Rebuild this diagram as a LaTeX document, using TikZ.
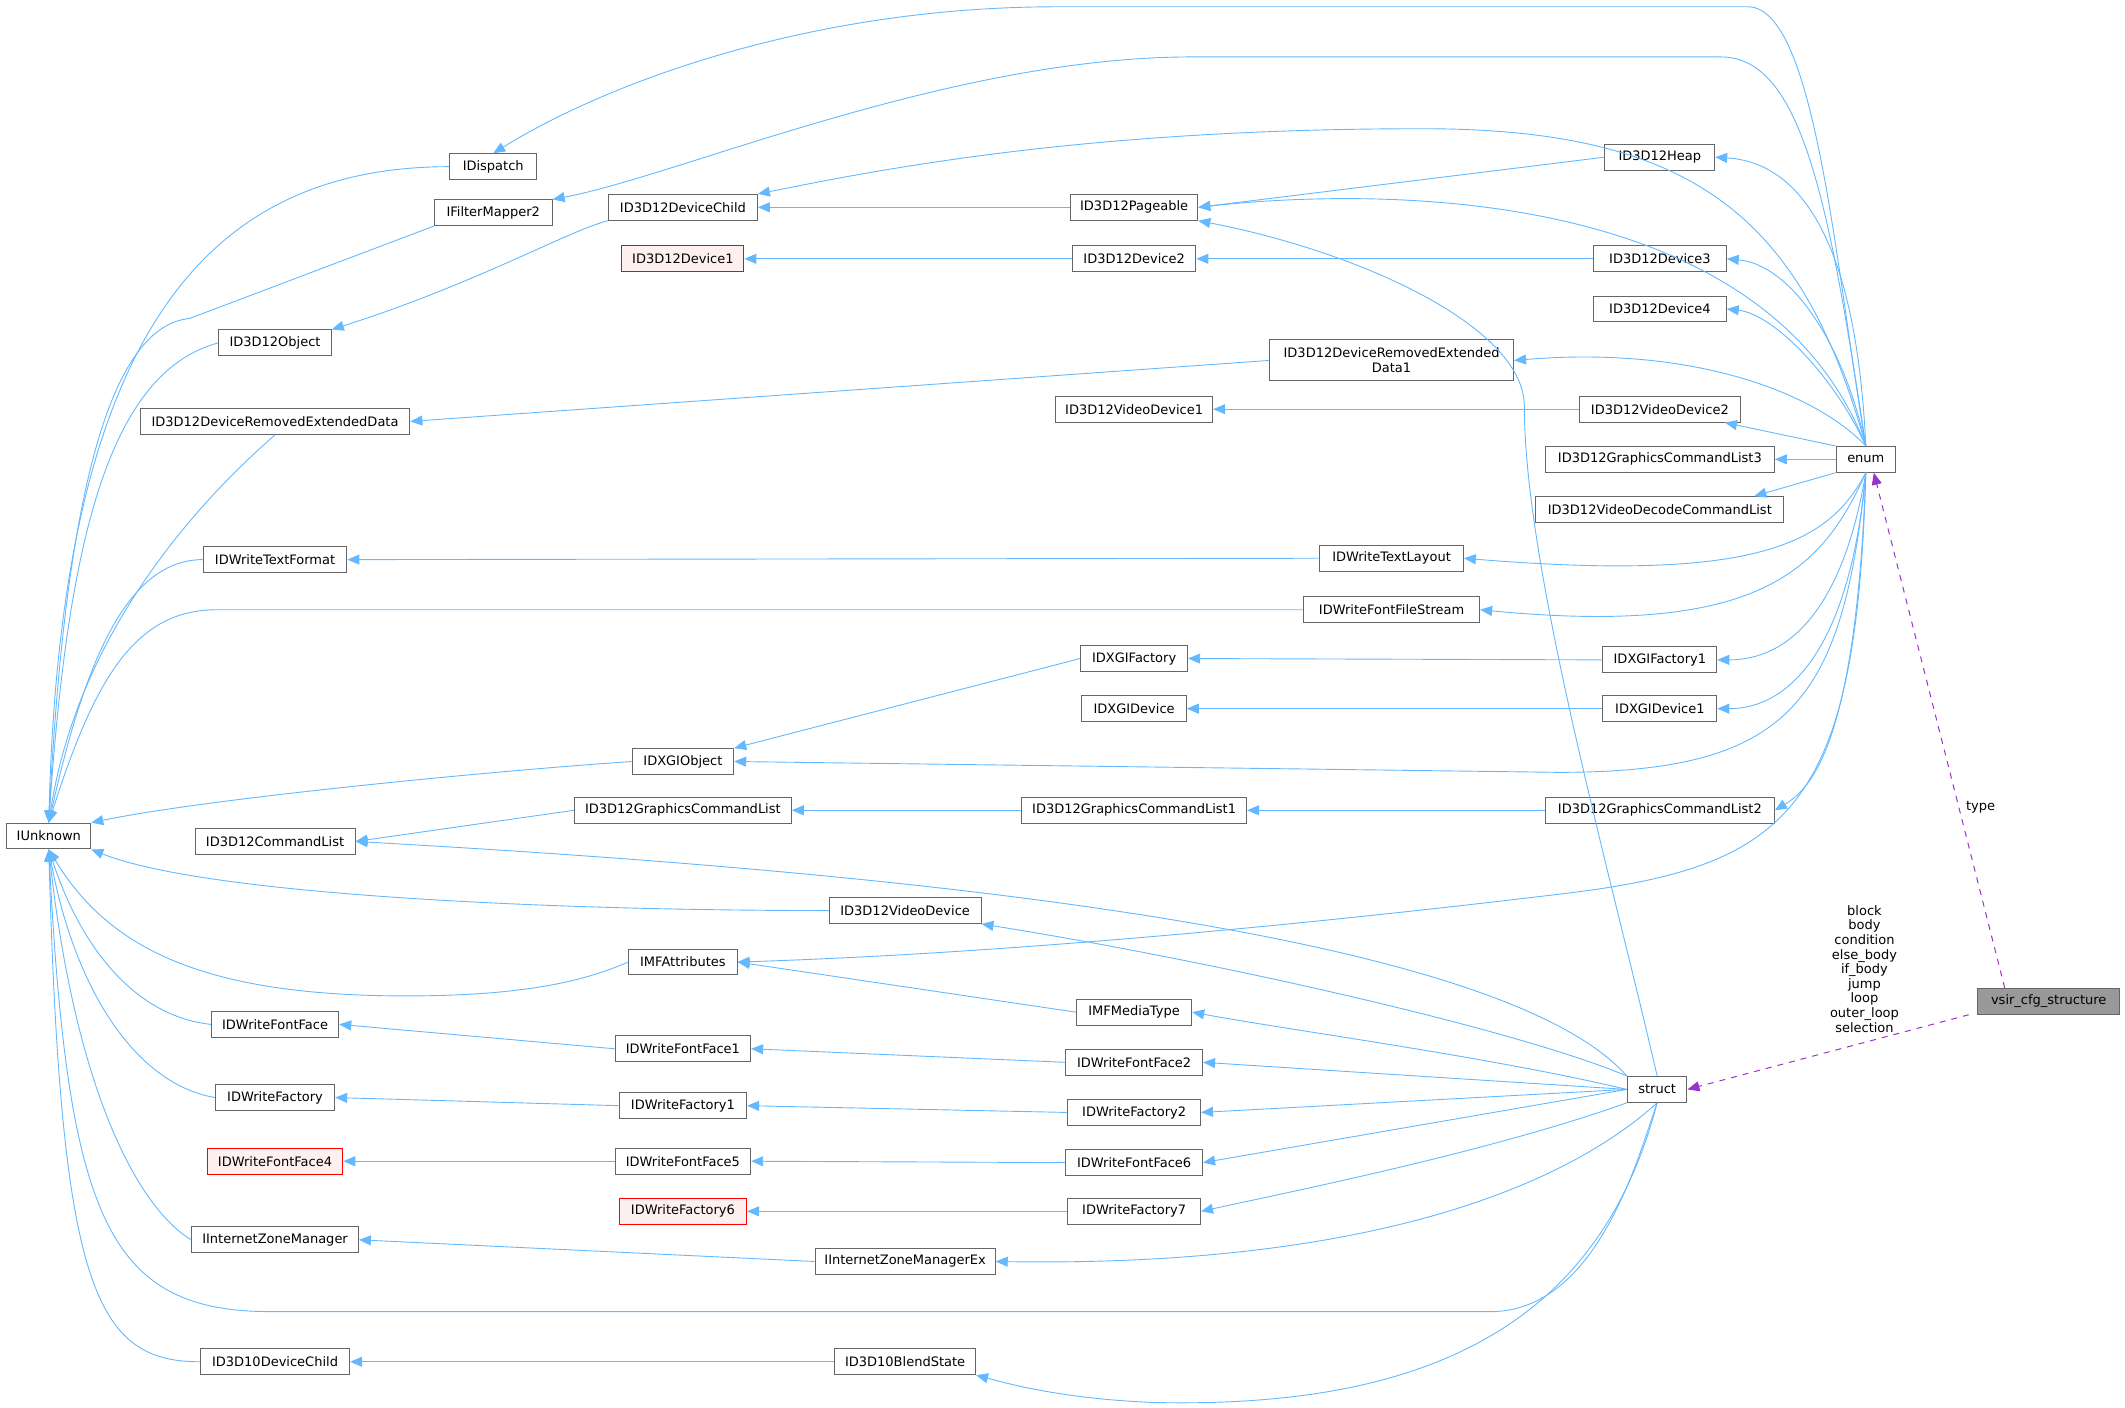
\documentclass[tikz,border=0pt]{standalone}
\usepackage{fontspec}
\setmainfont{DejaVu Sans}
\usetikzlibrary{arrows.meta}
\definecolor{eb}{HTML}{63B8FF}
\definecolor{pu}{HTML}{9A32CD}
\begin{document}
\begin{tikzpicture}[x=0.6775pt,y=-0.6775pt,
  b/.style={draw=black!60,fill=white,font=\fontsize{6.5}{7.5}\selectfont,minimum height=12.9pt,inner sep=1pt,line width=0.5pt},
  r/.style={b,draw=red,fill=red!6},
  g/.style={b,draw=black!60,fill=black!40},
  w/.style={minimum width=#1*0.6775pt},
  e/.style={draw=eb,line width=0.45pt,{Triangle[length=6pt,width=5pt]}-},
  pe/.style={draw=pu,line width=0.5pt,dashed,-{Triangle[length=6pt,width=5pt]}},
  lab/.style={font=\fontsize{6.5}{7.3}\selectfont,align=center}]
\useasboundingbox (0,0) rectangle (1568.3,1039.1);
% nodes
\node[b,w=62] (IU) at (36,617) {IUnknown};
\node[b,w=64] (IDi) at (364,123) {IDispatch};
\node[b,w=87] (IFM) at (364,157) {IFilterMapper2};
\node[b,w=83] (Obj) at (203,253) {ID3D12Object};
\node[b,w=199] (DRED) at (203,311) {ID3D12DeviceRemovedExtendedData};
\node[b,w=106] (TF) at (203,413) {IDWriteTextFormat};
\node[b,w=75] (XO) at (504,562) {IDXGIObject};
\node[b,w=118] (CL) at (203,621) {ID3D12CommandList};
\node[b,w=112] (VD) at (668,672) {ID3D12VideoDevice};
\node[b,w=80] (MFA) at (504,710) {IMFAttributes};
\node[b,w=94] (FF) at (203,756) {IDWriteFontFace};
\node[b,w=88] (WF) at (203,810) {IDWriteFactory};
\node[r,w=100] (FF4) at (203,857) {IDWriteFontFace4};
\node[b,w=123] (IZM) at (203,915) {IInternetZoneManager};
\node[b,w=110] (D10) at (203,1005) {ID3D10DeviceChild};
\node[b,w=110] (DC) at (504,153) {ID3D12DeviceChild};
\node[r,w=90] (Dv1) at (504,191) {ID3D12Device1};
\node[b,w=160] (GCL) at (504,598) {ID3D12GraphicsCommandList};
\node[b,w=100] (FF1) at (504,774) {IDWriteFontFace1};
\node[b,w=94] (WF1) at (504,816) {IDWriteFactory1};
\node[b,w=100] (FF5) at (504,857) {IDWriteFontFace5};
\node[r,w=94] (WF6) at (504,894) {IDWriteFactory6};
\node[b,w=133] (IZMX) at (668,931) {IInternetZoneManagerEx};
\node[b,w=104] (BS) at (668,1005) {ID3D10BlendState};
\node[b,w=94] (Pg) at (837,153) {ID3D12Pageable};
\node[b,w=91] (Dv2) at (837,191) {ID3D12Device2};
\node[b,w=116] (VD1) at (837,302) {ID3D12VideoDevice1};
\node[b,w=79] (XF) at (837,486) {IDXGIFactory};
\node[b,w=77] (XD) at (837,523) {IDXGIDevice};
\node[b,w=166] (GCL1) at (837,598) {ID3D12GraphicsCommandList1};
\node[b,w=85] (MT) at (837,747) {IMFMediaType};
\node[b,w=101] (FF2) at (837,784) {IDWriteFontFace2};
\node[b,w=98] (WF2) at (837,821) {IDWriteFactory2};
\node[b,w=101] (FF6) at (837,858) {IDWriteFontFace6};
\node[b,w=98] (WF7) at (837,894) {IDWriteFactory7};
\node[b,w=180,minimum height=20.5pt,align=center] (DRED1) at (1027,266) {ID3D12DeviceRemovedExtended\\Data1};
\node[b,w=106] (TL) at (1027,412) {IDWriteTextLayout};
\node[b,w=130] (FFS) at (1027,450) {IDWriteFontFileStream};
\node[b,w=81] (Hp) at (1225,116) {ID3D12Heap};
\node[b,w=98] (Dv3) at (1225,191) {ID3D12Device3};
\node[b,w=98] (Dv4) at (1225,228) {ID3D12Device4};
\node[b,w=119] (VD2) at (1225,302) {ID3D12VideoDevice2};
\node[b,w=169] (GCL3) at (1225,339) {ID3D12GraphicsCommandList3};
\node[b,w=183] (VDC) at (1225,376) {ID3D12VideoDecodeCommandList};
\node[b,w=84] (XF1) at (1225,487) {IDXGIFactory1};
\node[b,w=84] (XD1) at (1225,523) {IDXGIDevice1};
\node[b,w=169] (GCL2) at (1225,598) {ID3D12GraphicsCommandList2};
\node[b,w=44] (en) at (1377,339) {enum};
\node[b,w=44] (st) at (1223,804) {struct};
\node[g,w=105] (vs) at (1512,739) {vsir\_cfg\_structure};
% IUnknown fan
\draw[e] (IU.north) .. controls (45,250) and (150,123) .. (IDi.west);
\draw[e] (IU.north) .. controls (50,330) and (90,240) .. (140,235) -- (IFM.south west);
\draw[e] (IU.north) .. controls (50,400) and (80,275) .. (Obj.west);
\draw[e] (IU.north) .. controls (60,450) and (170,350) .. (DRED.south);
\draw[e] (IU.north) .. controls (60,500) and (90,413) .. (TF.west);
\draw[e] (IU.north) .. controls (70,500) and (100,450) .. (160,450) -- (FFS.west);
\draw[e] (IU.north east) .. controls (150,590) and (350,570) .. (XO.west);
\draw[e] (IU.south east) .. controls (150,660) and (400,672) .. (VD.west);
\draw[e] (IU.south) .. controls (80,700) and (150,735) .. (300,735) .. controls (400,735) and (440,720) .. (MFA.west);
\draw[e] (IU.south) .. controls (60,700) and (100,750) .. (FF.west);
\draw[e] (IU.south) .. controls (55,730) and (100,800) .. (WF.west);
\draw[e] (IU.south) .. controls (55,800) and (100,890) .. (IZM.west);
\draw[e] (IU.south) .. controls (50,900) and (80,968) .. (200,968) -- (1100,968) .. controls (1180,968) and (1210,850) .. (st.south);
\draw[e] (IU.south) .. controls (45,950) and (70,1005) .. (D10.west);
% direct chains
\draw[e] (Obj.north east) .. controls (350,210) and (420,170) .. (DC.south west);
\draw[e] (DC.east) -- (Pg.west);
\draw[e] (Dv1.east) -- (Dv2.west);
\draw[e] (Dv2.east) -- (Dv3.west);
\draw[e] (Pg.east) -- (Hp.west);
\draw[e] (DRED.east) -- (DRED1.west);
\draw[e] (VD1.east) -- (VD2.west);
\draw[e] (TF.east) -- (TL.west);
\draw[e] (XO.north east) -- (XF.west);
\draw[e] (XF.east) -- (XF1.west);
\draw[e] (XD.east) -- (XD1.west);
\draw[e] (CL.east) -- (GCL.west);
\draw[e] (GCL.east) -- (GCL1.west);
\draw[e] (GCL1.east) -- (GCL2.west);
\draw[e] (MFA.east) -- (MT.west);
\draw[e] (FF.east) -- (FF1.west);
\draw[e] (FF1.east) -- (FF2.west);
\draw[e] (WF.east) -- (WF1.west);
\draw[e] (WF1.east) -- (WF2.west);
\draw[e] (FF4.east) -- (FF5.west);
\draw[e] (FF5.east) -- (FF6.west);
\draw[e] (WF6.east) -- (WF7.west);
\draw[e] (IZM.east) -- (IZMX.west);
\draw[e] (D10.east) -- (BS.west);
% enum fan
\draw[e] (IDi.north) .. controls (450,60) and (600,5) .. (780,5) -- (1290,5) .. controls (1340,5) and (1355,200) .. (en.north);
\draw[e] (IFM.north east) .. controls (500,130) and (700,42) .. (880,42) -- (1270,42) .. controls (1330,42) and (1350,150) .. (en.north);
\draw[e] (DC.north east) .. controls (650,125) and (800,95) .. (1050,95) .. controls (1250,95) and (1330,160) .. (en.north);
\draw[e] (Pg.east) .. controls (1000,140) and (1300,130) .. (en.north);
\draw[e] (Hp.east) .. controls (1330,120) and (1370,180) .. (en.north);
\draw[e] (Dv3.east) .. controls (1320,195) and (1360,250) .. (en.north);
\draw[e] (Dv4.east) .. controls (1310,232) and (1355,280) .. (en.north);
\draw[e] (DRED1.east) .. controls (1250,255) and (1340,290) .. (en.north);
\draw[e] ([xshift=-8]VD2.south east) -- (en.north west);
\draw[e] (GCL3.east) -- (en.west);
\draw[e] ([xshift=-15]VDC.north east) -- (en.south west);
\draw[e] (TL.east) .. controls (1300,430) and (1350,400) .. (en.south);
\draw[e] (FFS.east) .. controls (1300,470) and (1345,420) .. (en.south);
\draw[e] (XF1.east) .. controls (1320,487) and (1360,450) .. (en.south);
\draw[e] (XD1.east) .. controls (1320,523) and (1365,480) .. (en.south);
\draw[e] (XO.east) -- (1150,570) .. controls (1320,570) and (1360,520) .. (en.south);
\draw[e] (GCL2.east) .. controls (1340,580) and (1370,540) .. (en.south);
\draw[e] (MFA.east) .. controls (700,705) and (900,690) .. (1150,660) .. controls (1320,640) and (1370,600) .. (en.south);
% struct fan
\draw[e] (Pg.south east) .. controls (1000,185) and (1125,240) .. (1125,300) .. controls (1125,420) and (1190,650) .. (st.north);
\draw[e] (CL.east) .. controls (600,640) and (1100,680) .. (st.north west);
\draw[e] (VD.south east) .. controls (900,710) and (1120,760) .. (st.north west);
\draw[e] (MT.east) .. controls (950,760) and (1100,780) .. (st.west);
\draw[e] (FF2.east) -- (st.west);
\draw[e] (WF2.east) -- (st.west);
\draw[e] (FF6.east) -- (st.west);
\draw[e] (WF7.east) .. controls (950,880) and (1100,850) .. (st.south west);
\draw[e] (IZMX.east) .. controls (1000,935) and (1150,880) .. (st.south);
\draw[e] (BS.south east) .. controls (740,1020) and (780,1032) .. (850,1035) .. controls (1050,1040) and (1180,980) .. (st.south);
% purple
\draw[pe] ([xshift=-22]vs.north) -- node[lab,right,pos=0.35] {type} ([xshift=4]en.south);
\draw[pe] ([xshift=-40]vs.south) -- (st.east);
\node[lab] (lbl) at (1376,715) {block\\body\\condition\\else\_body\\if\_body\\jump\\loop\\outer\_loop\\selection};
\end{tikzpicture}
\end{document}
